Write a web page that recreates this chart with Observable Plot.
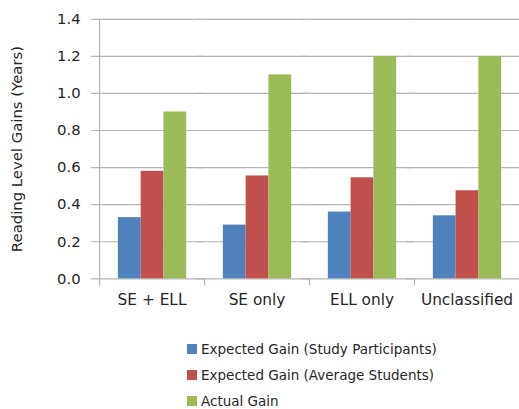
<!DOCTYPE html>
<html>
<head>
<meta charset="utf-8">
<script src="https://cdn.jsdelivr.net/npm/d3@7"></script>
<script src="https://cdn.jsdelivr.net/npm/@observablehq/plot@0.6"></script>
<style>
  html, body { margin: 0; padding: 0; background: #fff; overflow: hidden; }
  #chart svg { display: block; }
  #legend { position: relative; margin-left: 187px; margin-top: 19px; font-family: "DejaVu Sans", sans-serif; font-size: 13.5px; color: #262626; }
  .row { display: flex; align-items: center; height: 26px; }
  .sw { width: 10px; height: 10px; margin-right: 4px; }
</style>
</head>
<body>
<div id="chart"></div>
<div id="legend"></div>
<script>
const categories = ["SE + ELL", "SE only", "ELL only", "Unclassified"];
const seriesNames = ["Expected Gain (Study Participants)", "Expected Gain (Average Students)", "Actual Gain"];
const studyParticipants = [0.33, 0.29, 0.36, 0.34];
const averageStudents = [0.58, 0.555, 0.545, 0.475];
const actualGain = [0.9, 1.1, 1.2, 1.2];
const yTicks = [0, 0.2, 0.4, 0.6, 0.8, 1.0, 1.2, 1.4];
const colors = ["#4F81BD", "#C0504D", "#9BBB59"];

const seriesValues = [studyParticipants, averageStudents, actualGain];
const table = [];
categories.forEach((c, i) => seriesNames.forEach((s, j) => table.push({category: c, series: s, value: seriesValues[j][i]})));

const grid = "#b5b5b5";
const chart = Plot.plot({
  width: 524,
  height: 320,
  marginLeft: 100,
  marginRight: 0,
  marginTop: 19,
  marginBottom: 39,
  style: {fontFamily: "DejaVu Sans, sans-serif", color: "#262626", background: "#fff"},
  fx: {domain: categories, padding: 0},
  x: {domain: seriesNames, paddingInner: 0, paddingOuter: 0.775, axis: null},
  y: {domain: [0, 1.4], axis: null},
  color: {domain: seriesNames, range: colors},
  marks: [
    Plot.ruleY(yTicks, {stroke: grid, strokeWidth: 1.2, insetLeft: -8}),
    Plot.frame({anchor: "left", stroke: grid, strokeWidth: 1.2, facetAnchor: "left", insetBottom: -6}),
    Plot.frame({anchor: "left", stroke: grid, strokeWidth: 1.2, insetTop: 262, insetBottom: -6}),
    Plot.barY(table, {fx: "category", x: "series", y: "value", fill: "series"}),
    Plot.axisY(yTicks, {tickSize: 0, tickPadding: 19, tickFormat: ".1f", fontSize: 15, label: "Reading Level Gains (Years)", labelAnchor: "center", labelOffset: 89, labelArrow: "none"}),
    Plot.axisFx({anchor: "bottom", tickSize: 0, tickPadding: 15, fontSize: 15.5, label: null})
  ]
});
document.getElementById("chart").append(chart);

const legend = document.getElementById("legend");
seriesNames.forEach((s, j) => {
  const row = document.createElement("div");
  row.className = "row";
  const sw = document.createElement("div");
  sw.className = "sw";
  sw.style.background = colors[j];
  const t = document.createElement("span");
  t.textContent = s;
  row.append(sw, t);
  legend.append(row);
});
</script>
</body>
</html>
